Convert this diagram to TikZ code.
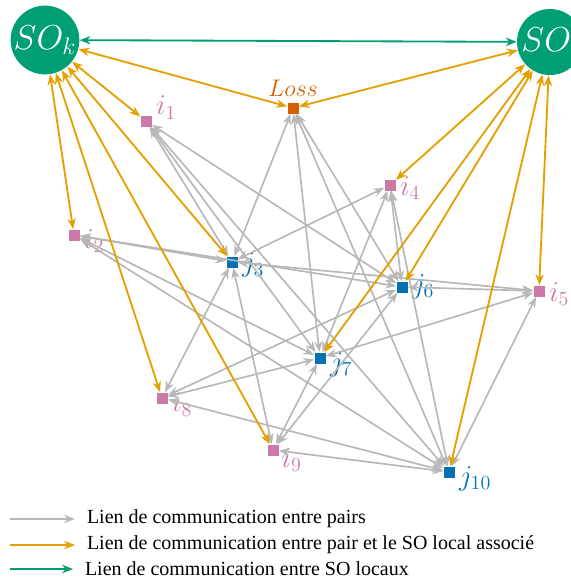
\documentclass[tikz,border=0pt]{standalone}
\usepackage[no-math]{fontspec}
\setmainfont{Liberation Serif}
\usetikzlibrary{arrows.meta}
\definecolor{soGreen}{HTML}{009E73}
\definecolor{soOrange}{HTML}{E69F00}
\definecolor{jBlue}{HTML}{0072B2}
\definecolor{iPink}{HTML}{CC79A7}
\definecolor{lossRed}{HTML}{D55E00}
\definecolor{peerGray}{HTML}{B8B8B8}
\tikzset{
  so/.style={circle,fill=soGreen,text=white,minimum size=39.6pt,inner sep=0pt,font=\huge},
  ipeer/.style={rectangle,fill=iPink,minimum size=6.6pt,inner sep=0pt},
  jpeer/.style={rectangle,fill=jBlue,minimum size=6.6pt,inner sep=0pt},
  ilabel/.style={text=iPink,font=\LARGE,label distance=-1pt},
  jlabel/.style={text=jBlue,font=\LARGE,label distance=-1pt},
  peer/.style={draw=peerGray,line width=1pt,<->},
  local/.style={draw=soOrange,line width=1.1pt,<->},
  inter/.style={draw=soGreen,line width=1.1pt,<->},
  legend/.style={anchor=west,inner xsep=7pt,inner ysep=0pt,font=\fontsize{12}{14}\selectfont}
}
\begin{document}
\begin{tikzpicture}[x=0.6pt,y=-0.6pt,>={Stealth[length=6.5pt,width=5pt]}]
\useasboundingbox (0,0) rectangle (571,581);
% SO locaux
\node[so] (sok) at (45,40) {$SO_k$};
\node[so] (sol) at (550,42) {$SO_l$};
% Loss
\node[rectangle,fill=lossRed,minimum size=6.6pt,inner sep=0pt,
  label={[text=lossRed,font=\Large,label distance=0pt]above:$Loss$}] (loss) at (293,108) {};
% pairs
\node[ipeer,label={[ilabel,yshift=8pt]right:$i_1$}] (i1) at (146,121) {};
\node[ipeer,label={[ilabel,yshift=-3.5pt]right:$i_2$}] (i2) at (74,235) {};
\node[ipeer,label={[ilabel,yshift=-2pt]right:$i_4$}] (i4) at (390,185) {};
\node[ipeer,label={[ilabel,yshift=-2pt]right:$i_5$}] (i5) at (539,291) {};
\node[ipeer,label={[ilabel,yshift=-4pt]right:$i_8$}] (i8) at (162,398) {};
\node[ipeer,label={[ilabel,yshift=-6pt,xshift=-1pt]right:$i_9$}] (i9) at (273,450) {};
\node[jpeer,label={[jlabel,yshift=-2pt]right:$j_3$}] (j3) at (232,262) {};
\node[jpeer,label={[jlabel]right:$j_6$}] (j6) at (402,287) {};
\node[jpeer,label={[jlabel,yshift=-4pt]right:$j_7$}] (j7) at (320,358) {};
\node[jpeer,label={[jlabel,yshift=-4pt]right:$j_{10}$}] (j10) at (449,472) {};
% liens entre pairs
\path (i1) edge[peer] (j3) edge[peer] (j6) edge[peer] (j7) edge[peer] (j10);
\path (i2) edge[peer] (j3) edge[peer] (j6) edge[peer] (j7) edge[peer] (j10);
\path (i4) edge[peer] (j3) edge[peer] (j6) edge[peer] (j7) edge[peer] (j10);
\path (i5) edge[peer] (j3) edge[peer] (j6) edge[peer] (j7) edge[peer] (j10);
\path (i8) edge[peer] (j3) edge[peer] (j6) edge[peer] (j7) edge[peer] (j10);
\path (i9) edge[peer] (j3) edge[peer] (j6) edge[peer] (j7) edge[peer] (j10);
\path (loss) edge[peer] (j3) edge[peer] (j6) edge[peer] (j7) edge[peer] (j10);
% liens pair - SO local
\path (sok) edge[local] (loss) edge[local] (i1) edge[local] (i2)
  edge[local] (j3) edge[local] (i8) edge[local] (i9);
\path (sol) edge[local] (loss) edge[local] (i4) edge[local] (j6)
  edge[local] (j7) edge[local] (j10) edge[local] (i5);
% lien entre SO
\draw[inter] (sok) -- (sol);
% legende
\coordinate (lg1) at (10,519);
\coordinate (lg2) at (10,545);
\coordinate (lg3) at (10,569);
\node[legend] (t1) at (75,519) {Lien de communication entre pairs};
\node[legend] (t2) at (75,545) {Lien de communication entre pair et le SO local associé};
\node[legend] (t3) at (73,569) {Lien de communication entre SO locaux};
\draw[peer,->] (lg1) -- (t1.west);
\draw[local,->] (lg2) -- (t2.west);
\draw[inter,->] (lg3) -- (t3.west);
\end{tikzpicture}
\end{document}
